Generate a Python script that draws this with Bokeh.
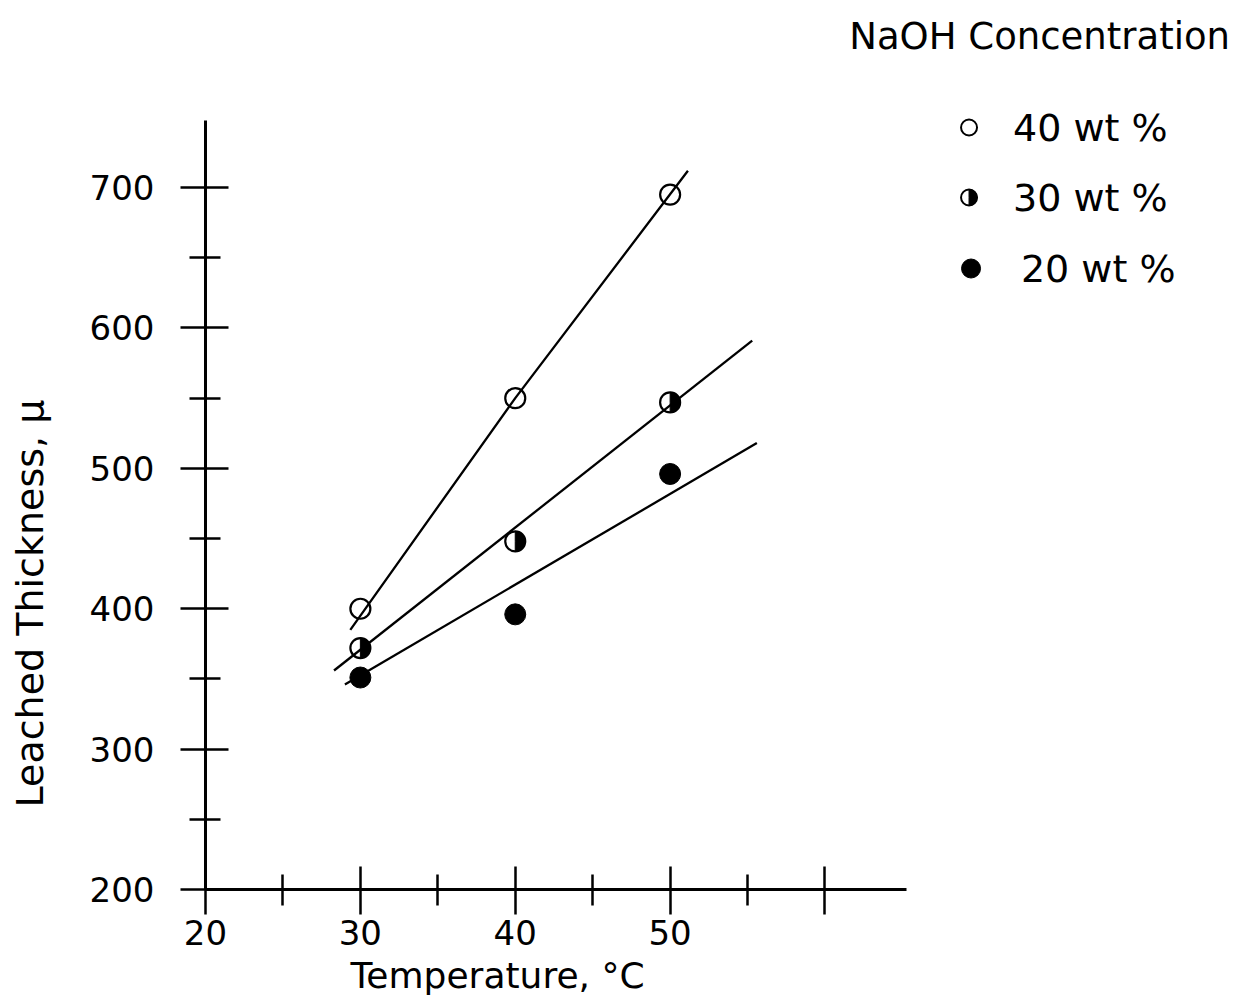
import math
from bokeh.plotting import figure
from bokeh.models import Range1d, FixedTicker, Label, Title
from bokeh.embed import file_html
from bokeh.resources import INLINE

# ---------------- data ----------------
temperature = [30, 40, 50]                 # deg C
thick_40wt = [400, 550, 695]               # open circles
thick_30wt = [372, 448, 547]               # half-filled circles
thick_20wt = [351, 396, 496]               # filled circles

# fitted lines drawn by the author
fit40_x = [29.35, 40.0, 51.15]
fit40_y = [385, 550, 712]
fit30_x = [28.3, 55.3]
fit30_y = [356, 591]
fit20_x = [29.0, 55.6]
fit20_y = [346, 518]

x_ticks = [20, 30, 40, 50, 60]
x_minor = [25, 35, 45, 55]
y_ticks = [200, 300, 400, 500, 600, 700]
y_minor = [250, 350, 450, 550, 650]
legend_title = "NaOH Concentration"
legend_labels = ["40 wt %", "30 wt %", "20 wt %"]
x_title = "Temperature, °C"
y_title = "Leached Thickness, μ"

# ---------------- layout ----------------
W, H = 1255, 1008
LEFT, RIGHT, TOP, BOTTOM = 203, 5, 0, 119
PX_X = 15.517   # px per deg C
PX_Y = 1.4038   # px per micron
X0, Y0 = 20, 200

def dx(px):
    return X0 + (px - LEFT) / PX_X

def dy(py):
    return Y0 + (H - BOTTOM - py) / PX_Y

FONT = "DejaVu Sans"

p = figure(width=W, height=H, output_backend="svg", toolbar_location=None, title=None,
           x_range=Range1d(X0, X0 + (W - LEFT - RIGHT) / PX_X),
           y_range=Range1d(Y0, Y0 + (H - BOTTOM - TOP) / PX_Y),
           min_border_left=LEFT, min_border_right=RIGHT,
           min_border_top=TOP, min_border_bottom=BOTTOM)
p.outline_line_color = None
p.grid.visible = False
p.background_fill_color = "white"
p.border_fill_color = "white"

for ax in (p.xaxis[0], p.yaxis[0]):
    ax.axis_line_width = 3
    ax.axis_line_color = "black"
    ax.major_tick_in = 23
    ax.major_tick_out = 25
    ax.minor_tick_in = 15
    ax.minor_tick_out = 16
    ax.major_tick_line_width = 2.5
    ax.minor_tick_line_width = 2.5
    ax.major_tick_line_color = "black"
    ax.minor_tick_line_color = "black"
    ax.major_label_text_font = FONT
    ax.major_label_text_font_size = "34px"
    ax.major_label_text_color = "black"

xa = p.xaxis[0]
xa.ticker = FixedTicker(ticks=x_ticks, minor_ticks=x_minor)
xa.major_label_overrides = {60: ""}
xa.bounds = (X0, dx(905))
xa.major_label_standoff = 5

ya = p.yaxis[0]
ya.ticker = FixedTicker(ticks=y_ticks, minor_ticks=y_minor)
ya.bounds = (Y0, dy(120))
ya.major_label_standoff = 26

# ---------------- axis titles ----------------
p.add_layout(Title(text=x_title, align="left", offset=145, text_font=FONT,
                   text_font_size="36px", text_font_style="normal",
                   text_color="black"), "below")
# blank spacer between the y tick labels and the y title
p.add_layout(Title(text=" ", text_font=FONT, text_font_size="20px",
                   standoff=4), "left")
p.add_layout(Title(text=y_title, align="left", offset=82, text_font=FONT,
                   text_font_size="38px", text_font_style="normal",
                   text_color="black"), "left")

# ---------------- fitted lines ----------------
p.line(fit40_x, fit40_y, line_color="black", line_width=2.3)
p.line(fit30_x, fit30_y, line_color="black", line_width=2.3)
p.line(fit20_x, fit20_y, line_color="black", line_width=2.3)

# ---------------- points ----------------
p.scatter(temperature, thick_40wt, marker="circle", size=20, fill_color=None,
          line_color="black", line_width=2.2)
p.scatter(temperature, thick_30wt, marker="circle", size=20, fill_color=None,
          line_color="black", line_width=2.2)
p.wedge(temperature, thick_30wt, radius=10, radius_units="screen",
        start_angle=-math.pi / 2, end_angle=math.pi / 2,
        fill_color="black", line_color="black", line_width=1)
p.scatter(temperature, thick_20wt, marker="circle", size=21, fill_color="black",
          line_color="black")

# ---------------- legend ----------------
leg_mx = [dx(968), dx(968), dx(970)]
leg_my = [dy(127), dy(197), dy(268)]
p.scatter([leg_mx[0]], [leg_my[0]], marker="circle", size=16, fill_color="white",
          line_color="black", line_width=2)
p.scatter([leg_mx[1]], [leg_my[1]], marker="circle", size=16, fill_color="white",
          line_color="black", line_width=2)
p.wedge([leg_mx[1]], [leg_my[1]], radius=8, radius_units="screen",
        start_angle=-math.pi / 2, end_angle=math.pi / 2,
        fill_color="black", line_color="black", line_width=1)
p.scatter([leg_mx[2]], [leg_my[2]], marker="circle", size=19, fill_color="black",
          line_color="black")

leg_tx = [dx(1012), dx(1012), dx(1020)]
leg_ty = [dy(127), dy(197), dy(268)]
for lbl, tx, ty in zip(legend_labels, leg_tx, leg_ty):
    p.add_layout(Label(x=tx, y=ty, text=lbl, text_align="left", text_baseline="middle",
                       text_font=FONT, text_font_size="38px", text_color="black"))

p.add_layout(Label(x=dx(848), y=dy(36), text=legend_title, text_align="left",
                   text_baseline="middle", text_font=FONT, text_font_size="37px",
                   text_color="black"))

open("out.html", "w").write(file_html(p, INLINE))
